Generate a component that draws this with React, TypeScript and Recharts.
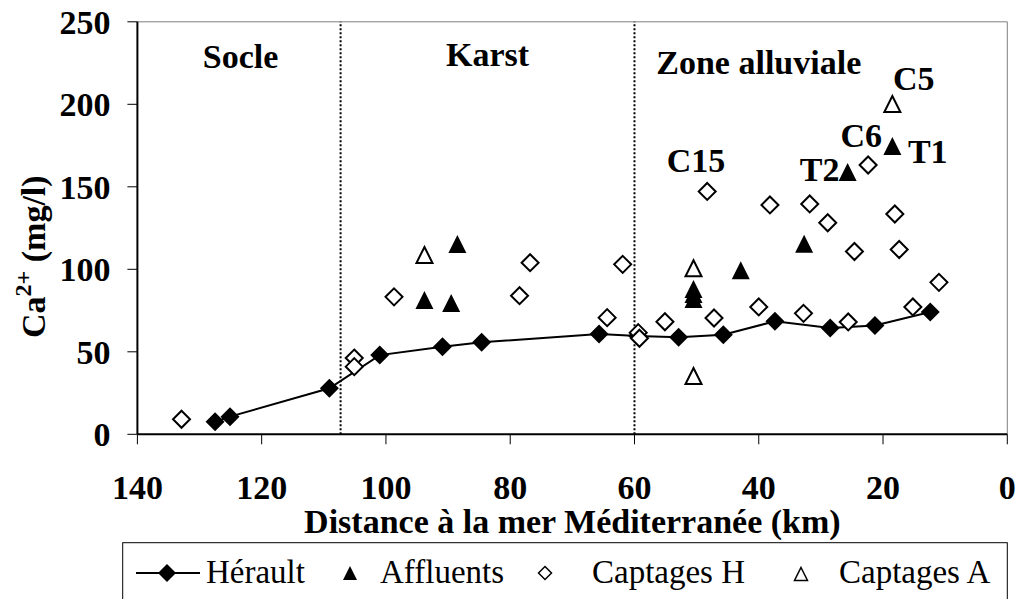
import React from 'react';
import { ScatterChart, Scatter, XAxis, YAxis, ReferenceLine, Customized } from 'recharts';

// ---- data (km from the sea, Ca2+ mg/l) ----
const heraultX = [127.5, 125.1, 109.1, 101.0, 90.9, 84.6, 65.7, 59.5, 52.9, 45.7, 37.4, 28.5, 21.3, 12.4];
const heraultY = [7.6, 10.7, 27.9, 48, 53.1, 55.8, 60.8, 59.6, 58.8, 60.4, 68.5, 64.5, 65.9, 74.1];

const affluentsX = [93.8, 89.5, 88.5, 50.5, 50.5, 50.5, 42.9, 32.7, 25.7, 18.5];
const affluentsY = [81.4, 79.6, 115.3, 82, 85, 88, 99.5, 115.5, 159, 174.7];

const captagesHX = [132.9, 105.1, 105.1, 98.7, 76.8, 78.5, 61.9, 64.4, 59.4, 59.2, 55.1, 47.2, 48.3, 38.2, 40.0, 31.8, 32.8, 28.9, 25.6, 24.6, 22.4, 18.1, 17.4, 15.2, 11.0];
const captagesHY = [9.1, 46.2, 41, 83.3, 104, 84, 103, 70.7, 61.6, 58.2, 68.2, 70.5, 147.2, 139, 77.2, 139.6, 73.3, 128.2, 68.1, 110.8, 163.2, 133.5, 112, 77.2, 92.1];

const captagesAX = [93.8, 50.5, 50.5, 18.5];
const captagesAY = [108.7, 100.6, 35.3, 200.2];

// zone boundaries (km)
const boundaries = [107.3, 60];

// zone titles (text anchor positions in data units)
const zoneLabels = ['Socle', 'Karst', 'Zone alluviale'];
const zoneX = [123.4, 83.65, 40.0];
const zoneY = [222, 223.2, 218.5];

// point annotations
const noteLabels = ['C15', 'C5', 'C6', 'T2', 'T1'];
const noteX = [50.1, 15.07, 23.5, 30.2, 12.8];
const noteY = [159.0, 208.4, 174.1, 153.5, 164.4];

const xTicks = [0, 20, 40, 60, 80, 100, 120, 140];
const yTicks = [0, 50, 100, 150, 200, 250];

const legendNames = ['Hérault', 'Affluents', 'Captages H', 'Captages A'];

const zip = (xs: number[], ys: number[]) => xs.map((x, i) => ({ x, y: ys[i] }));
const herault = zip(heraultX, heraultY);
const affluents = zip(affluentsX, affluentsY);
const captagesH = zip(captagesHX, captagesHY);
const captagesA = zip(captagesAX, captagesAY);
const zones = zoneX.map((x, i) => ({ x, y: zoneY[i], label: zoneLabels[i] }));
const notes = noteX.map((x, i) => ({ x, y: noteY[i], label: noteLabels[i] }));

const FONT = "'Liberation Serif', 'Times New Roman', serif";

const diamond = (cx: number, cy: number, r: number) =>
  `${cx},${cy - r} ${cx + r},${cy} ${cx},${cy + r} ${cx - r},${cy}`;
const triangle = (cx: number, cy: number, w: number, h: number) =>
  `${cx},${cy - h / 2} ${cx + w / 2},${cy + h / 2} ${cx - w / 2},${cy + h / 2}`;

const FilledDiamond = (p: any) => <polygon points={diamond(p.cx, p.cy, 9.5)} fill="#000" />;
const OpenDiamond = (p: any) => (
  <polygon points={diamond(p.cx, p.cy, 8.5)} fill="#fff" stroke="#000" strokeWidth={2} />
);
const FilledTriangle = (p: any) => <polygon points={triangle(p.cx, p.cy, 18, 18)} fill="#000" />;
const OpenTriangle = (p: any) => (
  <polygon points={triangle(p.cx, p.cy, 16, 16)} fill="#fff" stroke="#000" strokeWidth={2} strokeLinejoin="miter" />
);
const TextShape = (p: any) => (
  <text x={p.cx} y={p.cy} textAnchor="middle" fontFamily={FONT} fontWeight="bold" fontSize={34} fill="#000">
    {p.payload.label}
  </text>
);

const Decorations = () => {
  const ly = 573;
  const tb = 583;
  return (
    <g>
      {/* y axis title */}
      <text
        transform="translate(45,338) rotate(-90)"
        fontFamily={FONT}
        fontWeight="bold"
        fontSize={34}
        fill="#000"
      >
        <tspan>Ca</tspan>
        <tspan fontSize={24} dy={-14}>2+</tspan>
        <tspan dy={14}> (mg/l)</tspan>
      </text>
      {/* x axis title */}
      <text x={572.4} y={533} textAnchor="middle" fontFamily={FONT} fontWeight="bold" fontSize={34} fill="#000">
        Distance à la mer Méditerranée (km)
      </text>
      {/* legend */}
      <rect x={122.7} y={542.7} width={884.6} height={80} fill="#fff" stroke="#000" strokeWidth={1} />
      <line x1={136} y1={ly} x2={200} y2={ly} stroke="#000" strokeWidth={2} />
      <polygon points={diamond(167, ly, 9)} fill="#000" />
      <text x={206} y={tb} fontFamily={FONT} fontSize={33} fill="#000">{legendNames[0]}</text>
      <polygon points={triangle(350, ly, 14, 14)} fill="#000" />
      <text x={380} y={tb} fontFamily={FONT} fontSize={33} fill="#000">{legendNames[1]}</text>
      <polygon points={diamond(545, ly, 6.5)} fill="#fff" stroke="#000" strokeWidth={1.5} />
      <text x={592} y={tb} fontFamily={FONT} fontSize={33} fill="#000">{legendNames[2]}</text>
      <polygon points={triangle(801, ly + 1, 13, 13)} fill="#fff" stroke="#000" strokeWidth={1.5} />
      <text x={839} y={tb} fontFamily={FONT} fontSize={33} fill="#000">{legendNames[3]}</text>
    </g>
  );
};

export default function App() {
  return (
    <div style={{ position: 'absolute', left: 0, top: 0, background: '#fff' }}>
      <ScatterChart
        width={1018}
        height={599}
        margin={{ top: 21.8, right: 10.7, left: 37.4, bottom: 104.7 }}
      >
        <XAxis
          type="number"
          dataKey="x"
          domain={[0, 140]}
          ticks={xTicks}
          reversed
          height={60}
          tickSize={10}
          tickMargin={31}
          axisLine={{ stroke: '#000', strokeWidth: 2 }}
          tickLine={{ stroke: '#000', strokeWidth: 1 }}
          tick={{ fill: '#000', fontFamily: FONT, fontWeight: 'bold', fontSize: 34 }}
          allowDataOverflow
        />
        <YAxis
          type="number"
          dataKey="y"
          domain={[0, 250]}
          ticks={yTicks}
          width={100}
          tickSize={10}
          tickMargin={17}
          axisLine={{ stroke: '#000', strokeWidth: 2 }}
          tickLine={{ stroke: '#000', strokeWidth: 1 }}
          tick={{ fill: '#000', fontFamily: FONT, fontWeight: 'bold', fontSize: 34 }}
          allowDataOverflow
        />
        <ReferenceLine y={250} stroke="#808080" strokeWidth={1} />
        <ReferenceLine x={0} stroke="#808080" strokeWidth={1} />
        {boundaries.map((b) => (
          <ReferenceLine key={b} x={b} stroke="#000" strokeWidth={2} strokeDasharray="2 2" />
        ))}
        <Scatter
          name={legendNames[0]}
          data={herault}
          line={{ stroke: '#000', strokeWidth: 2 }}
          lineType="joint"
          shape={FilledDiamond}
          isAnimationActive={false}
        />
        <Scatter name={legendNames[1]} data={affluents} shape={FilledTriangle} isAnimationActive={false} />
        <Scatter name={legendNames[2]} data={captagesH} shape={OpenDiamond} isAnimationActive={false} />
        <Scatter name={legendNames[3]} data={captagesA} shape={OpenTriangle} isAnimationActive={false} />
        <Scatter data={zones} shape={TextShape} isAnimationActive={false} />
        <Scatter data={notes} shape={TextShape} isAnimationActive={false} />
        <Customized component={Decorations} />
      </ScatterChart>
    </div>
  );
}
